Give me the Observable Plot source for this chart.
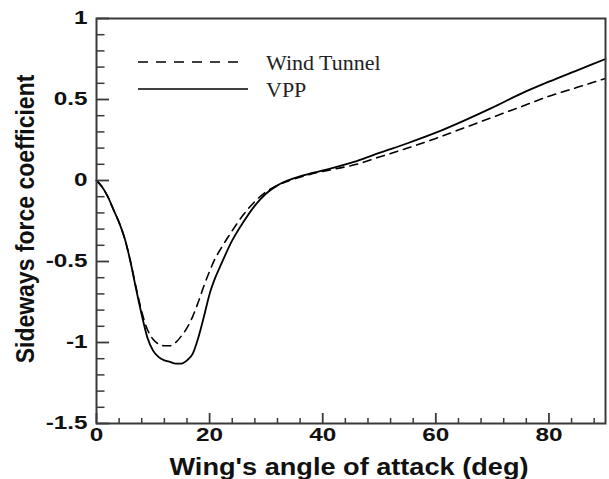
<!DOCTYPE html>
<html>
<head>
<meta charset="utf-8">
<script src="https://cdn.jsdelivr.net/npm/d3@7"></script>
<script src="https://cdn.jsdelivr.net/npm/@observablehq/plot@0.6"></script>
<style>
  html, body { margin: 0; padding: 0; background: #fff; }
  #chart { width: 609px; height: 479px; }
</style>
</head>
<body>
<div id="chart"></div>
<script>
// Wing's angle of attack (deg) and sideways force coefficient
const vppAngle = [0,1,2,3,4,5,6,7,8,9,10,11,12,13,14,15,16,17,18,19,20,21,22,24,26,28,30,32,35,38,42,46,50,55,60,65,70,75,80,85,90];
const vppForce = [0,-0.04,-0.10,-0.18,-0.26,-0.36,-0.50,-0.67,-0.83,-0.97,-1.05,-1.09,-1.11,-1.12,-1.13,-1.13,-1.11,-1.07,-0.97,-0.84,-0.70,-0.60,-0.52,-0.37,-0.255,-0.155,-0.08,-0.03,0.015,0.045,0.08,0.12,0.17,0.23,0.295,0.37,0.45,0.535,0.61,0.68,0.75];

const wtAngle = [0,1,2,3,4,5,6,7,8,9,10,11,12,13,14,15,16,17,18,19,20,21,22,24,26,28,30,32,35,38,42,46,50,55,60,65,70,75,80,85,90];
const wtForce = [0,-0.04,-0.10,-0.18,-0.26,-0.36,-0.50,-0.66,-0.81,-0.92,-0.98,-1.01,-1.02,-1.02,-1.00,-0.96,-0.91,-0.84,-0.75,-0.65,-0.56,-0.48,-0.42,-0.31,-0.21,-0.13,-0.07,-0.03,0.01,0.04,0.07,0.10,0.145,0.20,0.26,0.325,0.39,0.455,0.52,0.575,0.63];

const seriesNames = ["Wind Tunnel", "VPP"];
const xMajor = [0, 20, 40, 60, 80];
const xMinor = [4,8,12,16,24,28,32,36,44,48,52,56,64,68,72,76,84,88];
const yMajor = [-1.5, -1, -0.5, 0, 0.5, 1];
const yMinor = [-1.4,-1.3,-1.2,-1.1,-0.9,-0.8,-0.7,-0.6,-0.4,-0.3,-0.2,-0.1,0.1,0.2,0.3,0.4,0.6,0.7,0.8,0.9];
const xTitle = "Wing's angle of attack (deg)";
const yTitle = "Sideways force coefficient";

const vpp = vppAngle.map((a, i) => ({angle: a, force: vppForce[i]}));
const wt = wtAngle.map((a, i) => ({angle: a, force: wtForce[i]}));

const axisColor = "#3a3a3a";

const plot = Plot.plot({
  width: 609,
  height: 479,
  marginLeft: 96,
  marginRight: 4,
  marginTop: 18,
  marginBottom: 56,
  style: {fontFamily: "Liberation Sans, Arial, sans-serif", background: "#fff", color: "#111"},
  x: {domain: [0, 90]},
  y: {domain: [-1.5, 1]},
  marks: [
    Plot.line(wt, {x: "angle", y: "force", stroke: "#000", strokeWidth: 1.6, strokeDasharray: "8,6", curve: "monotone-x"}),
    Plot.line(vpp, {x: "angle", y: "force", stroke: "#000", strokeWidth: 1.8, curve: "monotone-x"}),
    // minor ticks
    Plot.axisX(xMinor, {tickSize: -5, text: null, stroke: axisColor, strokeWidth: 1.5, label: null}),
    Plot.axisY(yMinor, {tickSize: -8.5, text: null, stroke: axisColor, strokeWidth: 1.5, label: null}),
    // major ticks + labels
    Plot.axisX(xMajor, {tickSize: -10, tickPadding: 15, stroke: axisColor, strokeWidth: 1.8, fontSize: 18, fontWeight: "bold", label: null, tickFormat: d3.format("")}),
    Plot.axisY(yMajor, {tickSize: -13, tickPadding: 22, stroke: axisColor, strokeWidth: 1.8, fontSize: 18, fontWeight: "bold", label: null, tickFormat: d => String(d)}),
    Plot.frame({stroke: axisColor, strokeWidth: 2}),
    Plot.text([xTitle], {frameAnchor: "bottom", textAnchor: "middle", lineAnchor: "bottom", dx: -2, dy: 51, fontSize: 23, fontWeight: "bold", fill: "#111", className: "xtitle"}),
    Plot.text([yTitle], {frameAnchor: "left", textAnchor: "middle", lineAnchor: "middle", rotate: -90, dx: -71, dy: -2, fontSize: 23, fontWeight: "bold", fill: "#111", className: "ytitle"})
  ]
});

// horizontal stretch of tick labels (the reference glyphs are wide)
d3.select(plot).selectAll("g[aria-label$='tick label'] text").each(function() {
  const t = this.getAttribute("transform") || "";
  this.setAttribute("transform", t + " scale(1.35,1)");
});
d3.select(plot).selectAll(".xtitle text").each(function() {
  this.setAttribute("textLength", 359);
  this.setAttribute("lengthAdjust", "spacingAndGlyphs");
});
d3.select(plot).selectAll(".ytitle text").each(function() {
  const t = this.getAttribute("transform") || "";
  this.setAttribute("transform", t + " scale(1,1.15)");
});

// legend inside the plot
const lg = d3.select(plot).append("g").attr("class", "legend").attr("text-anchor", "start");
const legendRows = [
  {name: seriesNames[0], dash: "10,8", y: 62, x2: 240},
  {name: seriesNames[1], dash: null, y: 89, x2: 248}
];
legendRows.forEach(r => {
  lg.append("line").attr("x1", 138).attr("x2", r.x2).attr("y1", r.y).attr("y2", r.y)
    .attr("stroke", "#000").attr("stroke-width", 1.6).attr("stroke-dasharray", r.dash);
  lg.append("text").attr("x", 266).attr("y", r.y).attr("dy", "0.35em")
    .attr("text-anchor", "start")
    .attr("font-family", "Liberation Serif, Times New Roman, serif").attr("font-size", 22)
    .attr("fill", "#222").text(r.name);
});

document.getElementById("chart").appendChild(plot);
</script>
</body>
</html>
